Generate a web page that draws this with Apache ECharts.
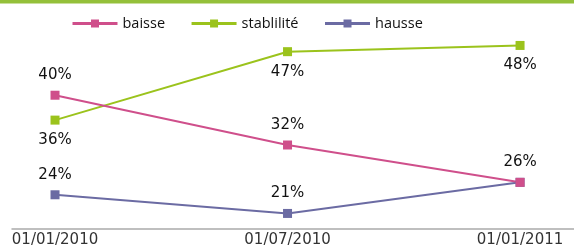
<!DOCTYPE html>
<html><head><meta charset="utf-8">
<script src="https://cdn.jsdelivr.net/npm/echarts@6/dist/echarts.min.js"></script>
<style>html,body{margin:0;padding:0;background:#fff}#c{width:574px;height:248px}</style>
</head><body><div id="c"></div>
<script>
const categories = ['01/01/2010', '01/07/2010', '01/01/2011'];
const baisse = [40, 32, 26];
const stabilite = [36, 47, 48];
const hausse = [24, 21, 26];
const seriesNames = ['baisse', 'stablilité', 'hausse'];

const chart = echarts.init(document.getElementById('c'));
const font = '"DejaVu Sans", Verdana, sans-serif';
function mk(name, vals, color, pos, hideLast) {
  return {
    name: name, type: 'line',
    data: vals.map((v, i) => ({value: [i, v], label: {show: !(hideLast && i === vals.length - 1)}})),
    symbol: 'rect', symbolSize: 9,
    lineStyle: {color: color, width: 2},
    itemStyle: {color: color},
    label: {show: true, position: pos, distance: 8, formatter: p => p.value[1] + '%',
      color: '#111', fontSize: 15, fontFamily: font},
    emphasis: {disabled: true}, animation: false
  };
}
chart.setOption({
  animation: false,
  graphic: [{type: 'rect', shape: {x: 0, y: 0, width: 574, height: 3.5}, style: {fill: '#94c03a'}}],
  legend: {
    top: 11, left: 66, itemWidth: 45, itemHeight: 10, itemGap: 25,
    lineStyle: {width: 3},
    textStyle: {fontSize: 14.5, fontFamily: '"Open Sans", sans-serif', color: '#111'},
    data: seriesNames
  },
  grid: {left: 12, right: 0, top: 33, bottom: 18},
  xAxis: {
    type: 'value', min: -0.185, max: 2.232,
    splitLine: {show: false},
    axisLine: {show: true, lineStyle: {color: '#aaa', width: 1.5}},
    axisTick: {show: false},
    axisLabel: {customValues: [0, 1, 2], formatter: v => categories[Math.round(v)] || '',
      color: '#333', fontSize: 15, fontFamily: font, margin: 4}
  },
  yAxis: {type: 'value', min: 18.5, max: 50, show: false, splitLine: {show: false}},
  series: [
    mk(seriesNames[2], hausse, '#6b6ba3', 'top', true),
    mk(seriesNames[1], stabilite, '#9bc31c', 'bottom', false),
    mk(seriesNames[0], baisse, '#cf4f8b', 'top', false)
  ]
});
</script></body></html>
